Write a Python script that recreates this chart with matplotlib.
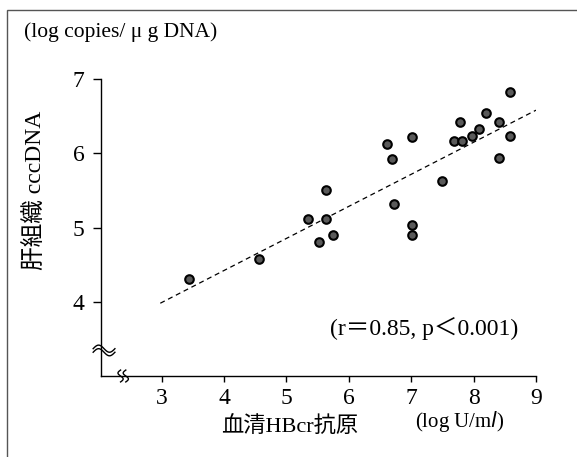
import numpy as np
import matplotlib.pyplot as plt
from matplotlib.patches import Rectangle

# Data
hbcr = [3.44, 4.56, 5.34, 5.63, 5.63, 5.53, 5.75, 6.61, 6.70, 6.72, 7.01, 7.01,
        7.01, 7.50, 7.68, 7.82, 7.79, 7.98, 8.08, 8.20, 8.40, 8.41, 8.59, 8.59]
cccdna = [4.31, 4.58, 5.11, 5.51, 5.12, 4.81, 4.90, 6.13, 5.92, 5.31, 6.22, 5.03,
          4.90, 5.63, 6.16, 6.16, 6.42, 6.23, 6.33, 6.54, 6.42, 5.93, 6.83, 6.23]
fit_x = [2.98, 9.0]
fit_y = [3.98, 6.58]
xticks = [3, 4, 5, 6, 7, 8, 9]
yticks = [4, 5, 6, 7]

fam = ['Liberation Serif', 'Noto Sans CJK JP']
plt.rcParams['font.family'] = fam

fig = plt.figure(figsize=(5.77, 4.57), dpi=100)
fig.patches.append(Rectangle((7/577, -0.1), 1.2, (457-10)/457 + 0.1, transform=fig.transFigure,
                             fill=False, edgecolor='#555555', linewidth=1.0))

ax = fig.add_axes([101/577, (457-376)/457, (536-101)/577, (376-79)/457])
ax.scatter(hbcr, cccdna, s=38, c='#5a5a5a', edgecolors='black', linewidths=1.5, zorder=3)
ax.plot(fit_x, fit_y, linestyle=(0, (4, 3)), color='black', linewidth=0.9)

ax.set_xlim(2.03, 9)
ax.set_ylim(3.0, 7)
ax.set_xticks(xticks)
ax.set_yticks(yticks)
ax.spines['top'].set_visible(False)
ax.spines['right'].set_visible(False)
for s in ['left', 'bottom']:
    ax.spines[s].set_linewidth(1.0)
ax.tick_params(axis='x', direction='out', length=4, width=1.0, labelsize=17, pad=5)
ax.tick_params(axis='y', direction='out', length=6, width=1.0, labelsize=17, pad=6)

# axis break marks
t = np.linspace(0, 1, 30)
for dy in (0, 0.012):
    ax.plot(-0.018 + 0.05 * t, 0.08 + dy + 0.012 * np.sin(2 * np.pi * t), color='black',
            lw=1.0, transform=ax.transAxes, clip_on=False)
for dx in (0, 0.012):
    ax.plot(0.045 + dx + 0.006 * np.sin(2 * np.pi * t), -0.02 + 0.04 * t, color='black',
            lw=1.0, transform=ax.transAxes, clip_on=False)

fig.text(24/577, 1 - 32/457, '(log copies/ μ g DNA)', fontsize=15.5, va='center', ha='left',
         family=fam)
fig.text(36/577, 1 - 190/457, '肝組織 cccDNA', fontsize=17, rotation=90, va='center', ha='center',
         family=fam)
fig.text(290/577, 1 - 427/457, '血清HBcr抗原', fontsize=16, va='center', ha='center', family=fam)
fig.text(460/577, 1 - 421/457, '(log U/m$l$)', fontsize=15, va='center', ha='center', family=fam)
fig.text(424/577, 1 - 328/457, '(r＝0.85, p＜0.001)', fontsize=17, va='center', ha='center',
         family=fam)

fig.savefig('out.png', dpi=100)
